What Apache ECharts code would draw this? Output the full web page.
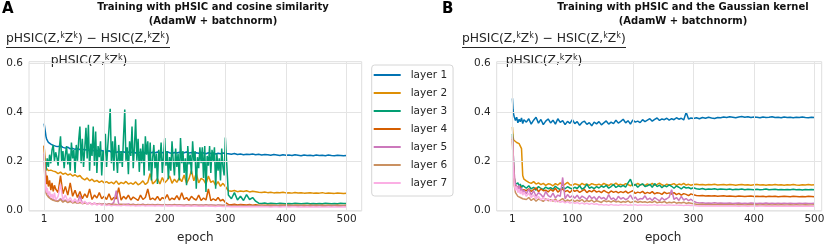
<!DOCTYPE html>
<html><head><meta charset="utf-8">
<script src="https://cdn.jsdelivr.net/npm/echarts@6/dist/echarts.min.js"></script>
<style>html,body{margin:0;padding:0;background:#fff}#c{width:830px;height:249px}</style>
</head><body><div id="c"></div>
<script>
const EPOCHS = [1,2,3,4,5,6,8,10,12,14,16,18,20,
24,28,32,36,40,44,48,52,56,60,
64,68,72,76,80,84,88,92,96,100,
104,108,112,116,120,124,128,132,136,140,
144,148,152,156,160,164,168,172,176,180,
184,188,192,196,200,204,208,212,216,220,
224,228,232,236,240,244,248,252,256,260,
264,268,272,276,280,284,288,292,296,300,
305,310,315,320,325,330,335,340,345,350,
355,360,365,370,375,380,385,390,395,400,
405,410,415,420,425,430,435,440,445,450,
455,460,465,470,475,480,485,490,495,500];

// finer sampling for the very noisy layer 3 of panel A
const EPOCHS_A_L3 = [1,2,3,4,5,6,8,10,12,14,16,18,20,
22,24,26,28,30,32,34,36,38,40,
42,44,46,48,50,52,54,56,58,60,
62,64,66,68,70,72,74,76,78,80,
82,84,86,88,90,92,94,96,98,100,
102,104,106,108,110,112,114,116,118,120,
122,124,126,128,130,132,134,136,138,140,
142,144,146,148,150,152,154,156,158,160,
162,164,166,168,170,172,174,176,178,180,
182,184,186,188,190,192,194,196,198,200,
202,204,206,208,210,212,214,216,218,220,
222,224,226,228,230,232,234,236,238,240,
242,244,246,248,250,252,254,256,258,260,
262,264,266,268,270,272,274,276,278,280,
282,284,286,288,290,292,294,296,298,300,
305,310,315,320,325,330,335,340,345,350,
355,360,365,370,375,380,385,390,395,400,
405,410,415,420,425,430,435,440,445,450,
455,460,465,470,475,480,485,490,495,500];

const LAYER_NAMES = ['layer 1','layer 2','layer 3','layer 4','layer 5','layer 6','layer 7'];
const X_TICKS = [1,100,200,300,400,500];
const Y_TICKS = [0,0.2,0.4,0.6];

// Panel A: cosine similarity
const A_L1 = [0.352,0.335,0.318,0.300,0.290,0.282,0.275,0.270,0.268,0.266,0.263,0.262,0.260,
0.258,0.262,0.255,0.252,0.256,0.249,0.251,0.247,0.250,0.246,
0.248,0.244,0.246,0.241,0.245,0.240,0.243,0.238,0.242,0.239,
0.237,0.241,0.236,0.239,0.234,0.238,0.235,0.237,0.233,0.236,
0.234,0.237,0.232,0.235,0.233,0.236,0.231,0.234,0.232,0.235,
0.233,0.236,0.231,0.234,0.232,0.237,0.233,0.230,0.234,0.232,
0.235,0.231,0.233,0.236,0.232,0.234,0.230,0.233,0.231,0.234,
0.232,0.229,0.233,0.230,0.232,0.228,0.231,0.229,0.232,0.230,
0.229,0.227,0.230,0.226,0.228,0.225,0.227,0.226,0.228,0.225,
0.227,0.224,0.226,0.225,0.223,0.226,0.224,0.222,0.225,0.223,
0.224,0.222,0.225,0.223,0.221,0.224,0.222,0.223,0.221,0.224,
0.222,0.223,0.221,0.224,0.222,0.221,0.223,0.222,0.221,0.222];
const A_L2 = [0.262,0.215,0.185,0.172,0.168,0.165,0.160,0.158,0.162,0.155,0.158,0.152,0.155,
0.148,0.154,0.145,0.150,0.142,0.147,0.138,0.143,0.135,0.140,
0.128,0.122,0.130,0.118,0.125,0.115,0.120,0.112,0.118,0.110,
0.115,0.108,0.113,0.106,0.118,0.104,0.112,0.107,0.116,0.105,
0.110,0.104,0.114,0.102,0.108,0.118,0.103,0.112,0.148,0.106,
0.115,0.128,0.105,0.132,0.110,0.121,0.138,0.108,0.125,0.112,
0.130,0.115,0.142,0.108,0.127,0.160,0.118,0.150,0.110,0.128,
0.122,0.105,0.138,0.112,0.118,0.100,0.115,0.096,0.108,0.095,
0.078,0.076,0.079,0.074,0.077,0.075,0.078,0.073,0.076,0.074,
0.072,0.071,0.073,0.070,0.072,0.069,0.071,0.070,0.072,0.069,
0.070,0.068,0.071,0.069,0.070,0.068,0.069,0.070,0.068,0.069,
0.068,0.070,0.067,0.069,0.068,0.067,0.069,0.068,0.067,0.068];
const A_L3 = [0.230,0.195,0.172,0.160,0.185,0.210,0.175,0.225,0.190,0.245,0.265,0.200,0.235,
0.215,0.180,0.250,0.300,0.195,0.240,0.170,0.225,0.260,0.185,
0.230,0.160,0.275,0.210,0.245,0.150,0.265,0.200,0.285,0.340,
0.190,0.290,0.175,0.250,0.335,0.210,0.347,0.160,0.270,0.220,
0.340,0.180,0.320,0.150,0.260,0.215,0.280,0.140,0.240,0.200,
0.310,0.175,0.260,0.330,0.413,0.190,0.280,0.160,0.300,0.220,
0.150,0.265,0.190,0.240,0.175,0.300,0.410,0.200,0.255,0.145,
0.280,0.220,0.340,0.170,0.260,0.370,0.200,0.290,0.155,0.250,
0.190,0.270,0.140,0.300,0.225,0.280,0.160,0.275,0.120,0.210,
0.265,0.170,0.230,0.105,0.245,0.195,0.275,0.150,0.220,0.293,
0.180,0.240,0.125,0.215,0.160,0.280,0.200,0.140,0.250,0.175,
0.230,0.120,0.293,0.190,0.240,0.150,0.210,0.100,0.260,0.185,
0.225,0.145,0.280,0.200,0.240,0.086,0.215,0.170,0.255,0.190,
0.255,0.130,0.260,0.073,0.220,0.180,0.260,0.150,0.245,0.200,
0.255,0.086,0.230,0.160,0.210,0.120,0.250,0.175,0.140,0.295,
0.060,0.045,0.070,0.040,0.055,0.038,0.062,0.042,0.050,0.035,
0.027,0.026,0.028,0.025,0.027,0.026,0.025,0.027,0.026,0.025,
0.026,0.025,0.027,0.026,0.025,0.026,0.027,0.025,0.026,0.025,
0.026,0.025,0.027,0.026,0.025,0.026,0.025,0.027,0.026,0.026];
const A_L4 = [0.262,0.200,0.160,0.130,0.105,0.140,0.095,0.120,0.080,0.110,0.075,0.100,0.085,
0.070,0.140,0.065,0.095,0.060,0.110,0.055,0.080,0.050,0.075,
0.045,0.065,0.050,0.085,0.042,0.060,0.048,0.070,0.045,0.055,
0.042,0.065,0.040,0.050,0.045,0.090,0.040,0.055,0.044,0.060,
0.040,0.052,0.045,0.038,0.060,0.042,0.050,0.085,0.041,0.048,
0.040,0.055,0.038,0.050,0.044,0.062,0.039,0.048,0.042,0.058,
0.040,0.070,0.042,0.050,0.038,0.055,0.045,0.040,0.060,0.038,
0.048,0.040,0.085,0.037,0.045,0.038,0.050,0.036,0.042,0.030,
0.022,0.021,0.023,0.020,0.022,0.021,0.020,0.022,0.019,0.021,
0.019,0.018,0.019,0.018,0.019,0.018,0.017,0.019,0.018,0.018,
0.018,0.017,0.018,0.018,0.017,0.018,0.017,0.018,0.017,0.018,
0.017,0.018,0.017,0.018,0.017,0.017,0.018,0.017,0.017,0.018];
const A_L5 = [0.225,0.150,0.100,0.078,0.066,0.080,0.056,0.062,0.046,0.052,0.041,0.047,0.038,
0.036,0.046,0.033,0.040,0.031,0.036,0.029,0.033,0.027,0.058,
0.026,0.030,0.025,0.028,0.024,0.027,0.023,0.026,0.023,0.025,
0.022,0.025,0.022,0.030,0.078,0.024,0.021,0.023,0.022,0.024,
0.021,0.023,0.020,0.022,0.021,0.023,0.020,0.022,0.021,0.022,
0.020,0.022,0.021,0.020,0.022,0.020,0.021,0.020,0.022,0.020,
0.021,0.020,0.019,0.021,0.020,0.019,0.021,0.020,0.019,0.020,
0.019,0.021,0.019,0.020,0.019,0.018,0.020,0.019,0.018,0.019,
0.017,0.016,0.017,0.016,0.017,0.016,0.016,0.017,0.016,0.016,
0.016,0.017,0.016,0.016,0.015,0.016,0.016,0.015,0.016,0.016,
0.015,0.016,0.016,0.015,0.016,0.015,0.016,0.015,0.016,0.015,
0.016,0.015,0.015,0.016,0.015,0.016,0.015,0.015,0.016,0.015];
const A_L6 = [0.218,0.140,0.092,0.072,0.062,0.070,0.052,0.058,0.044,0.049,0.039,0.044,0.036,
0.034,0.042,0.031,0.037,0.029,0.034,0.028,0.031,0.026,0.030,
0.025,0.028,0.024,0.027,0.023,0.026,0.022,0.025,0.022,0.024,
0.021,0.024,0.021,0.023,0.022,0.020,0.023,0.021,0.022,0.020,
0.021,0.022,0.020,0.021,0.020,0.022,0.019,0.021,0.020,0.021,
0.019,0.021,0.020,0.019,0.021,0.019,0.020,0.019,0.021,0.019,
0.020,0.019,0.018,0.020,0.019,0.018,0.020,0.019,0.018,0.019,
0.018,0.020,0.018,0.019,0.018,0.017,0.019,0.018,0.017,0.018,
0.016,0.015,0.016,0.015,0.016,0.015,0.015,0.016,0.015,0.015,
0.015,0.016,0.015,0.015,0.014,0.015,0.015,0.014,0.015,0.015,
0.014,0.015,0.015,0.014,0.015,0.014,0.015,0.014,0.015,0.014,
0.015,0.014,0.014,0.015,0.014,0.015,0.014,0.014,0.015,0.014];
const A_L7 = [0.233,0.140,0.095,0.080,0.070,0.090,0.060,0.075,0.050,0.065,0.045,0.070,0.040,
0.055,0.105,0.040,0.060,0.035,0.050,0.030,0.045,0.028,0.040,
0.025,0.035,0.022,0.030,0.020,0.028,0.019,0.024,0.018,0.022,
0.017,0.020,0.016,0.019,0.017,0.018,0.016,0.019,0.017,0.018,
0.016,0.018,0.015,0.017,0.016,0.018,0.015,0.017,0.016,0.017,
0.015,0.017,0.016,0.015,0.017,0.015,0.016,0.015,0.017,0.015,
0.016,0.015,0.014,0.016,0.015,0.014,0.016,0.015,0.014,0.015,
0.014,0.016,0.014,0.015,0.014,0.013,0.015,0.014,0.013,0.014,
0.013,0.012,0.013,0.012,0.013,0.012,0.012,0.013,0.012,0.012,
0.012,0.013,0.012,0.012,0.011,0.012,0.012,0.011,0.012,0.012,
0.011,0.012,0.012,0.011,0.012,0.011,0.012,0.011,0.012,0.011,
0.012,0.011,0.011,0.012,0.011,0.012,0.011,0.011,0.012,0.011];

// Panel B: Gaussian kernel
const B_L1 = [0.455,0.410,0.390,0.380,0.372,0.365,0.378,0.355,0.370,0.360,0.375,0.352,0.368,
0.358,0.372,0.350,0.366,0.378,0.354,0.369,0.348,0.362,0.371,
0.355,0.366,0.350,0.372,0.357,0.364,0.348,0.361,0.353,0.368,
0.352,0.360,0.345,0.357,0.362,0.349,0.356,0.343,0.358,0.351,
0.360,0.347,0.355,0.363,0.350,0.358,0.352,0.366,0.354,0.361,
0.370,0.355,0.364,0.350,0.367,0.358,0.362,0.356,0.368,0.360,
0.366,0.372,0.362,0.369,0.375,0.365,0.371,0.368,0.374,0.366,
0.372,0.368,0.376,0.370,0.374,0.367,0.398,0.371,0.375,0.373,
0.376,0.372,0.377,0.374,0.378,0.375,0.373,0.377,0.376,0.379,
0.377,0.380,0.378,0.376,0.379,0.381,0.378,0.380,0.377,0.379,
0.378,0.376,0.379,0.377,0.378,0.380,0.377,0.378,0.376,0.379,
0.377,0.378,0.376,0.378,0.377,0.379,0.377,0.376,0.378,0.377];
const B_L2 = [0.338,0.300,0.285,0.282,0.280,0.278,0.275,0.272,0.270,0.262,0.250,0.140,0.125,
0.118,0.112,0.108,0.115,0.105,0.110,0.103,0.108,0.100,0.106,
0.104,0.098,0.107,0.101,0.110,0.099,0.105,0.112,0.102,0.100,
0.106,0.103,0.099,0.108,0.102,0.105,0.100,0.107,0.103,0.101,
0.105,0.100,0.108,0.103,0.099,0.106,0.102,0.109,0.101,0.104,
0.100,0.107,0.103,0.098,0.105,0.101,0.108,0.102,0.104,0.099,
0.106,0.101,0.108,0.100,0.104,0.109,0.102,0.098,0.105,0.101,
0.103,0.107,0.100,0.105,0.102,0.108,0.101,0.104,0.100,0.103,
0.104,0.102,0.103,0.101,0.103,0.102,0.104,0.101,0.102,0.103,
0.101,0.103,0.102,0.100,0.102,0.103,0.101,0.102,0.100,0.102,
0.103,0.101,0.102,0.100,0.102,0.101,0.103,0.101,0.102,0.100,
0.102,0.101,0.103,0.101,0.100,0.102,0.101,0.103,0.101,0.102];
const B_L3 = [0.310,0.250,0.180,0.130,0.115,0.105,0.100,0.110,0.095,0.105,0.090,0.100,0.092,
0.088,0.098,0.085,0.092,0.080,0.095,0.087,0.083,0.093,0.086,
0.090,0.084,0.096,0.088,0.082,0.091,0.086,0.094,0.089,0.085,
0.092,0.087,0.098,0.084,0.090,0.105,0.088,0.093,0.086,0.095,
0.089,0.097,0.092,0.100,0.088,0.095,0.103,0.091,0.098,0.094,
0.100,0.093,0.110,0.125,0.097,0.104,0.092,0.101,0.106,0.095,
0.098,0.104,0.092,0.107,0.095,0.101,0.090,0.099,0.094,0.102,
0.096,0.088,0.097,0.092,0.085,0.094,0.089,0.091,0.086,0.090,
0.086,0.084,0.087,0.083,0.085,0.084,0.086,0.083,0.085,0.084,
0.083,0.085,0.082,0.084,0.083,0.085,0.082,0.084,0.083,0.082,
0.084,0.082,0.083,0.085,0.082,0.083,0.084,0.082,0.083,0.082,
0.083,0.082,0.084,0.082,0.083,0.081,0.083,0.082,0.083,0.082];
const B_L4 = [0.290,0.230,0.170,0.130,0.110,0.100,0.095,0.090,0.085,0.095,0.080,0.088,0.082,
0.078,0.086,0.075,0.082,0.090,0.074,0.085,0.078,0.080,0.073,
0.083,0.076,0.088,0.072,0.080,0.085,0.074,0.079,0.070,0.082,
0.075,0.080,0.071,0.077,0.083,0.070,0.078,0.073,0.081,0.072,
0.076,0.070,0.079,0.073,0.068,0.077,0.071,0.075,0.069,0.074,
0.070,0.076,0.068,0.073,0.078,0.067,0.072,0.069,0.075,0.066,
0.071,0.067,0.074,0.065,0.070,0.068,0.063,0.072,0.066,0.069,
0.064,0.070,0.062,0.067,0.060,0.066,0.063,0.058,0.065,0.061,
0.058,0.057,0.058,0.056,0.057,0.056,0.057,0.055,0.056,0.057,
0.055,0.056,0.055,0.054,0.056,0.055,0.054,0.055,0.056,0.054,
0.055,0.054,0.055,0.053,0.055,0.054,0.055,0.053,0.054,0.055,
0.054,0.053,0.055,0.054,0.053,0.054,0.053,0.055,0.054,0.053];
const B_L5 = [0.300,0.250,0.190,0.150,0.120,0.105,0.095,0.085,0.100,0.075,0.090,0.070,0.080,
0.065,0.085,0.060,0.078,0.055,0.070,0.062,0.050,0.075,0.058,
0.052,0.068,0.048,0.060,0.055,0.132,0.045,0.062,0.050,0.058,
0.047,0.060,0.044,0.056,0.050,0.042,0.058,0.046,0.053,0.040,
0.055,0.045,0.050,0.040,0.062,0.043,0.048,0.038,0.055,0.044,
0.050,0.041,0.047,0.060,0.042,0.052,0.039,0.046,0.044,0.057,
0.041,0.048,0.038,0.050,0.043,0.036,0.049,0.040,0.045,0.052,
0.082,0.042,0.050,0.038,0.055,0.040,0.046,0.037,0.043,0.035,
0.030,0.028,0.029,0.027,0.028,0.027,0.029,0.027,0.028,0.027,
0.027,0.028,0.026,0.027,0.028,0.026,0.027,0.026,0.028,0.027,
0.026,0.027,0.026,0.028,0.026,0.027,0.026,0.027,0.026,0.027,
0.026,0.027,0.026,0.026,0.027,0.026,0.027,0.026,0.026,0.027];
const B_L6 = [0.280,0.200,0.140,0.100,0.085,0.070,0.065,0.055,0.060,0.050,0.055,0.045,0.050,
0.042,0.050,0.038,0.046,0.035,0.044,0.040,0.034,0.045,0.037,
0.041,0.035,0.044,0.033,0.039,0.046,0.034,0.040,0.036,0.042,
0.033,0.039,0.035,0.042,0.032,0.038,0.034,0.040,0.031,0.037,
0.034,0.030,0.038,0.033,0.036,0.031,0.037,0.032,0.035,0.030,
0.034,0.031,0.036,0.029,0.033,0.035,0.030,0.034,0.031,0.033,
0.029,0.033,0.030,0.035,0.028,0.032,0.030,0.034,0.027,0.031,
0.029,0.032,0.027,0.030,0.028,0.031,0.026,0.029,0.027,0.025,
0.023,0.022,0.023,0.021,0.022,0.021,0.022,0.021,0.022,0.021,
0.021,0.022,0.021,0.020,0.022,0.021,0.020,0.021,0.022,0.020,
0.021,0.020,0.021,0.020,0.021,0.020,0.021,0.020,0.021,0.020,
0.020,0.021,0.020,0.021,0.020,0.020,0.021,0.020,0.020,0.021];
const B_L7 = [0.285,0.200,0.140,0.105,0.090,0.080,0.095,0.070,0.085,0.065,0.078,0.060,0.072,
0.055,0.068,0.050,0.060,0.045,0.055,0.040,0.050,0.038,0.045,
0.035,0.042,0.032,0.038,0.030,0.035,0.028,0.033,0.027,0.031,
0.026,0.030,0.024,0.028,0.023,0.027,0.022,0.026,0.022,0.025,
0.020,0.022,0.019,0.021,0.018,0.022,0.019,0.020,0.018,0.021,
0.019,0.021,0.018,0.020,0.019,0.021,0.018,0.020,0.019,0.020,
0.018,0.020,0.019,0.021,0.018,0.019,0.020,0.018,0.019,0.020,
0.019,0.018,0.020,0.018,0.019,0.017,0.019,0.018,0.017,0.018,
0.016,0.015,0.016,0.015,0.016,0.015,0.015,0.016,0.015,0.015,
0.015,0.016,0.015,0.015,0.014,0.015,0.015,0.014,0.015,0.015,
0.014,0.015,0.015,0.014,0.015,0.014,0.015,0.014,0.015,0.014,
0.015,0.014,0.014,0.015,0.014,0.015,0.014,0.014,0.015,0.014];

const PANEL_A = [A_L1,A_L2,A_L3,A_L4,A_L5,A_L6,A_L7];
const PANEL_B = [B_L1,B_L2,B_L3,B_L4,B_L5,B_L6,B_L7];
const COLORS = ['#0173b2','#de8f05','#029e73','#d55e00','#cc78bc','#ca9161','#fbafe4'];

const FONT = '"DejaVu Sans", sans-serif';
const TXT = '#262626';
const GRIDC = '#e4e4e4';

function pairs(xs, vals){ return xs.map((e,i)=>[e, vals[i]]); }

const series = [];
[PANEL_A, PANEL_B].forEach((panel, p) => {
  series.push({
    type:'line', xAxisIndex:p, yAxisIndex:p, data:[], z:1, silent:true,
    markLine:{silent:true, symbol:['none','none'], animation:false, label:{show:false},
      emphasis:{disabled:true},
      lineStyle:{color:GRIDC, width:1, type:'solid'},
      data: X_TICKS.map(v=>({xAxis:v})).concat(Y_TICKS.map(v=>({yAxis:v})))}
  });
  panel.forEach((vals, k) => {
    const xs = (p === 0 && k === 2) ? EPOCHS_A_L3 : EPOCHS;
    series.push({
      type:'line', name:LAYER_NAMES[k], xAxisIndex:p, yAxisIndex:p,
      data: pairs(xs, vals), symbol:'none', showSymbol:false, z:2,
      lineStyle:{width:1.5, color:COLORS[k]}, itemStyle:{color:COLORS[k]},
      emphasis:{disabled:true}, animation:false
    });
  });
});

function xAxis(idx, min, max, shift){
  return {type:'value', gridIndex:idx, min:min, max:max,
    name:'epoch', nameLocation:'middle', nameGap:21,
    nameTextStyle:{fontSize:12, color:TXT, fontFamily:FONT, padding:[0,0,0,shift]},
    axisLine:{show:false}, axisTick:{show:false}, splitLine:{show:false},
    axisLabel:{customValues:X_TICKS, margin:3, fontSize:10.5, color:TXT, fontFamily:FONT}};
}
function yAxis(idx){
  return {type:'value', gridIndex:idx, min:-0.005, max:0.605,
    axisLine:{show:false}, axisTick:{show:false}, splitLine:{show:false},
    axisLabel:{customValues:Y_TICKS, margin:6, fontSize:10.5, color:TXT, fontFamily:FONT,
      formatter:v=>v.toFixed(1)}};
}

const sup = {fontSize:8, verticalAlign:'top', lineHeight:9, fontFamily:FONT, fill:TXT};
function numer(x){
  return {type:'text', x:x, y:39, style:{
    text:'pHSIC(Z,{k|k}Z{k|k}) − HSIC(Z,{k|k}Z{k|k})',
    fontSize:12.3, fontFamily:FONT, fill:TXT, align:'left', verticalAlign:'middle',
    lineHeight:14, rich:{k:sup}}};
}
function denom(x){
  return {type:'text', x:x, y:61, style:{
    text:'pHSIC(Z,{k|k}Z{k|k})',
    fontSize:12.3, fontFamily:FONT, fill:TXT, align:'center', verticalAlign:'middle',
    lineHeight:14, rich:{k:sup}}};
}
function title(x, t){
  return [
    {type:'text', x:x, y:7.5, style:{text:t, font:'bold 10px '+FONT, fill:'#111', align:'center', verticalAlign:'middle'}},
    {type:'text', x:x, y:21.5, style:{text:'(AdamW + batchnorm)', font:'bold 10px '+FONT, fill:'#111', align:'center', verticalAlign:'middle'}}
  ];
}

const option = {
  backgroundColor:'#fff',
  animation:false,
  grid:[
    {left:29, top:61.7, width:332.7, height:156.6, show:true, borderColor:'#dedede', borderWidth:1, backgroundColor:'transparent'},
    {left:496.7, top:61.7, width:325, height:156.6, show:true, borderColor:'#dedede', borderWidth:1, backgroundColor:'transparent'}
  ],
  xAxis:[xAxis(0,-24,525,0), xAxis(1,-25,512,8)],
  yAxis:[yAxis(0), yAxis(1)],
  legend:{
    data:LAYER_NAMES, orient:'vertical', left:371.7, top:65,
    icon:'rect', itemWidth:27, itemHeight:2, itemGap:4,
    padding:[3,6,6,2], backgroundColor:'#fff', borderColor:'#d6d6d6', borderWidth:1, borderRadius:3,
    textStyle:{fontSize:10.5, color:TXT, fontFamily:FONT, lineHeight:14, padding:[0,0,0,5]},
    selectedMode:false
  },
  graphic:[
    {type:'text', x:2, y:9, style:{text:'A', font:'bold 15px '+FONT, fill:'#000', verticalAlign:'middle'}},
    {type:'text', x:442, y:9, style:{text:'B', font:'bold 15px '+FONT, fill:'#000', verticalAlign:'middle'}},
    ...title(213, 'Training with pHSIC and cosine similarity'),
    ...title(683, 'Training with pHSIC and the Gaussian kernel'),
    numer(6),
    {type:'line', shape:{x1:6, y1:47.5, x2:170, y2:47.5}, style:{stroke:TXT, lineWidth:1}},
    denom(89),
    numer(462),
    {type:'line', shape:{x1:462, y1:47.5, x2:626, y2:47.5}, style:{stroke:TXT, lineWidth:1}},
    denom(544)
  ],
  series:series
};

const chart = echarts.init(document.getElementById('c'), null, {renderer:'canvas'});
chart.setOption(option);
</script>
</body></html>
